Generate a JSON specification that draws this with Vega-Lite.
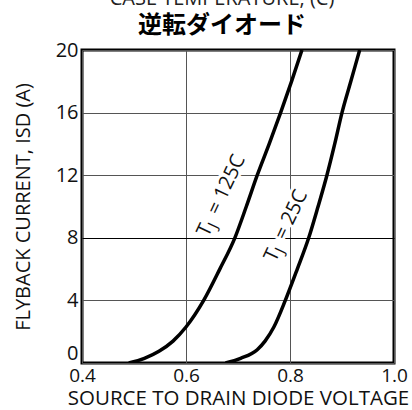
{
  "$schema": "https://vega.github.io/schema/vega-lite/v6.json",
  "width": 312,
  "height": 313,
  "autosize": {"type": "none"},
  "padding": {"left": 82, "top": 50, "right": 18, "bottom": 47},
  "config": {
    "font": "Open Sans",
    "view": {"stroke": "black", "strokeWidth": 3}
  },
  "title": {
    "text": "CASE TEMPERATURE, (C)",
    "subtitle": "逆転ダイオード",
    "fontSize": 20,
    "fontWeight": "normal",
    "color": "#222",
    "subtitleFontSize": 24,
    "subtitleFontWeight": "bold",
    "subtitleColor": "black",
    "subtitleFont": "Noto Sans CJK JP",
    "subtitlePadding": 5,
    "anchor": "middle",
    "offset": 2,
    "dx": -16
  },
  "datasets": {
    "curves": [
      {"v": 0.49, "i": 0, "tj": "125C"},
      {"v": 0.52, "i": 0.3, "tj": "125C"},
      {"v": 0.548, "i": 0.75, "tj": "125C"},
      {"v": 0.575, "i": 1.4, "tj": "125C"},
      {"v": 0.6, "i": 2.3, "tj": "125C"},
      {"v": 0.634, "i": 4, "tj": "125C"},
      {"v": 0.665, "i": 6, "tj": "125C"},
      {"v": 0.694, "i": 8, "tj": "125C"},
      {"v": 0.716, "i": 10, "tj": "125C"},
      {"v": 0.737, "i": 12, "tj": "125C"},
      {"v": 0.76, "i": 14, "tj": "125C"},
      {"v": 0.782, "i": 16, "tj": "125C"},
      {"v": 0.803, "i": 18, "tj": "125C"},
      {"v": 0.823, "i": 20, "tj": "125C"},
      {"v": 0.676, "i": 0, "tj": "25C"},
      {"v": 0.705, "i": 0.3, "tj": "25C"},
      {"v": 0.737, "i": 0.85, "tj": "25C"},
      {"v": 0.752, "i": 1.4, "tj": "25C"},
      {"v": 0.769, "i": 2.3, "tj": "25C"},
      {"v": 0.791, "i": 4, "tj": "25C"},
      {"v": 0.814, "i": 6, "tj": "25C"},
      {"v": 0.836, "i": 8, "tj": "25C"},
      {"v": 0.854, "i": 10, "tj": "25C"},
      {"v": 0.871, "i": 12, "tj": "25C"},
      {"v": 0.886, "i": 14, "tj": "25C"},
      {"v": 0.9, "i": 16, "tj": "25C"},
      {"v": 0.917, "i": 18, "tj": "25C"},
      {"v": 0.934, "i": 20, "tj": "25C"}
    ],
    "labels": [
      {"v": 0.643, "i": 8.0, "t": "T", "j": "J", "rest": "= 125C"},
      {"v": 0.772, "i": 6.4, "t": "T", "j": "J", "rest": "= 25C"}
    ]
  },
  "encoding": {
    "x": {
      "field": "v", "type": "quantitative",
      "scale": {"domain": [0.4, 1.0], "nice": false, "zero": false},
      "axis": {
        "values": [0.4, 0.6, 0.8, 1.0],
        "format": ".1f",
        "grid": true,
        "gridColor": "#555",
        "gridWidth": 1,
        "gridOpacity": 1,
        "ticks": false,
        "domain": false,
        "labelFontSize": 19,
        "labelColor": "#111",
        "labelPadding": 3,
        "labelFlush": false,
        "title": "SOURCE TO DRAIN DIODE VOLTAGE",
        "titleFontSize": 20.5,
        "titleFontWeight": "normal",
        "titleColor": "#111",
        "titlePadding": 3
      }
    },
    "y": {
      "field": "i", "type": "quantitative",
      "scale": {"domain": [0, 20], "nice": false},
      "axis": {
        "values": [0, 4, 8, 12, 16, 20],
        "grid": true,
        "gridColor": {"condition": {"test": "datum.value == 8", "value": "#000"}, "value": "#555"},
        "gridWidth": 1,
        "gridOpacity": 1,
        "ticks": false,
        "domain": false,
        "labelFontSize": 20,
        "labelColor": "#111",
        "labelPadding": 4,
        "labelFlush": false,
        "labelBaseline": {"condition": {"test": "datum.value == 0", "value": "bottom"}, "value": "middle"},
        "title": "FLYBACK CURRENT, ISD (A)",
        "titleFontSize": 20,
        "titleFontWeight": "normal",
        "titleColor": "#111",
        "titlePadding": 22
      }
    }
  },
  "layer": [
    {
      "data": {"name": "labels"},
      "mark": {"type": "text", "align": "left", "baseline": "alphabetic", "angle": 295, "fontSize": 20, "stroke": "white", "strokeWidth": 6, "fill": "white"},
      "encoding": {"text": {"field": "t"}}
    },
    {
      "data": {"name": "labels"},
      "mark": {"type": "text", "align": "left", "baseline": "alphabetic", "angle": 295, "fontSize": 15, "dx": 11, "dy": 4, "stroke": "white", "strokeWidth": 6, "fill": "white"},
      "encoding": {"text": {"field": "j"}}
    },
    {
      "data": {"name": "labels"},
      "mark": {"type": "text", "align": "left", "baseline": "alphabetic", "angle": 295, "fontSize": 20, "dx": 24, "stroke": "white", "strokeWidth": 6, "fill": "white"},
      "encoding": {"text": {"field": "rest"}}
    },
    {
      "data": {"name": "curves"},
      "mark": {"type": "line", "color": "black", "strokeWidth": 3.5, "interpolate": "monotone", "clip": true},
      "encoding": {"detail": {"field": "tj"}}
    },
    {
      "data": {"name": "labels"},
      "mark": {"type": "text", "align": "left", "baseline": "alphabetic", "angle": 295, "fontSize": 20, "color": "#111"},
      "encoding": {"text": {"field": "t"}}
    },
    {
      "data": {"name": "labels"},
      "mark": {"type": "text", "align": "left", "baseline": "alphabetic", "angle": 295, "fontSize": 15, "dx": 11, "dy": 4, "color": "#111"},
      "encoding": {"text": {"field": "j"}}
    },
    {
      "data": {"name": "labels"},
      "mark": {"type": "text", "align": "left", "baseline": "alphabetic", "angle": 295, "fontSize": 20, "dx": 24, "color": "#111"},
      "encoding": {"text": {"field": "rest"}}
    }
  ]
}
